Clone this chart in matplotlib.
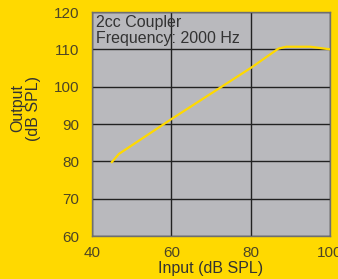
import numpy as np
import matplotlib.pyplot as plt

plt.rcParams['font.family'] = ['Liberation Sans', 'DejaVu Sans']

input_db = [45.0, 46.8, 60.0, 80.0, 87.0, 89.0, 95.0, 100.0]
output_db = [79.8, 82.0, 91.3, 105.0, 110.2, 110.7, 110.7, 110.0]
x_ticks = [40, 60, 80, 100]
y_ticks = [60, 70, 80, 90, 100, 110, 120]

fig = plt.figure(figsize=(3.38, 2.79), dpi=100, facecolor="#ffd900")
ax = fig.add_axes([92 / 338, 43 / 279, 238 / 338, 224 / 279])
ax.set_facecolor("#b9b9bd")

ax.plot(input_db, output_db, color="#ffd900", lw=1.6, zorder=3)

ax.set_xlim(40, 100)
ax.set_ylim(60, 120)
ax.set_xticks(x_ticks)
ax.set_yticks(y_ticks)
ax.grid(True, color="#222222", lw=1.0)
ax.tick_params(length=0, labelsize=11, colors="#4d4525", pad=9)
ax.tick_params(axis="x", pad=7)
for s in ax.spines.values():
    s.set_color("#6e6e70")
    s.set_linewidth(1.0)

ax.text(0.017, 0.985, "2cc Coupler\nFrequency: 2000 Hz", transform=ax.transAxes,
        va="top", ha="left", fontsize=11.5, color="#333333", linespacing=1.05)
ax.set_xlabel("Input (dB SPL)", fontsize=11.5, color="#333333", labelpad=1)
ax.set_ylabel("Output\n(dB SPL)", fontsize=11.5, color="#333333", labelpad=8,
              linespacing=1.05)
ax.yaxis.set_label_coords(-0.215, 0.57)

fig.savefig("out.png", dpi=100, facecolor=fig.get_facecolor())
